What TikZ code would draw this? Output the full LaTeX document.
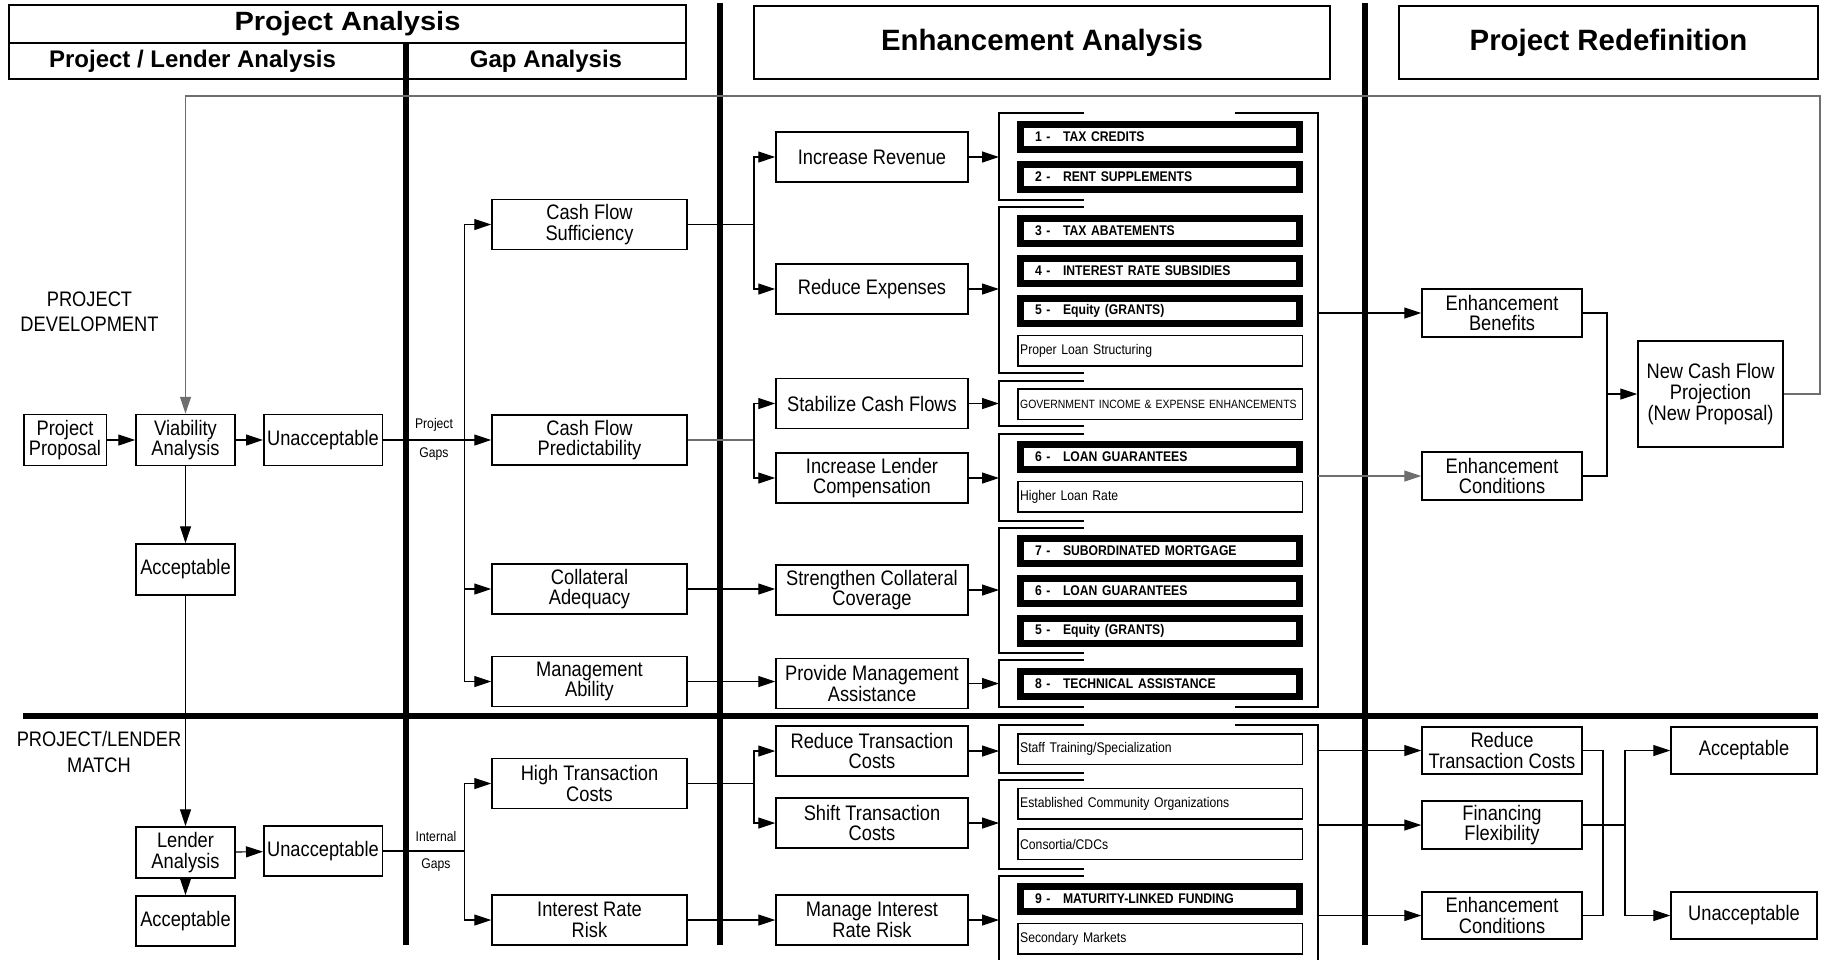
\documentclass[tikz,border=0pt]{standalone}
\usepackage{fontspec}
\setmainfont{Liberation Sans}
\newfontfamily\narrowsf{Liberation Sans}[FakeStretch=0.87]
\newfontfamily\widesf{Liberation Sans}[FakeStretch=1.1]
\usepackage{xcolor}
\definecolor{wireGray}{HTML}{6E6E6E}
\usepackage{tikz}
\usetikzlibrary{arrows.meta, positioning, calc}

\newcommand{\enhno}[2]{\makebox[14pt][l]{#1 -}#2}

\tikzset{
  hdr/.style={draw, line width=0.75pt, fill=white, inner sep=0pt},
  box/.style={draw, line width=0.75pt, fill=white, align=center, inner sep=0pt,
    font=\narrowsf\fontsize{10.5}{10.3}\selectfont},
  lbox/.style={box, minimum width=49.5pt, minimum height=25.5pt},
  gbox/.style={box, minimum width=97.5pt, minimum height=25pt},
  ebox/.style={box, minimum width=96pt, minimum height=25pt},
  rbox/.style={box, minimum width=80pt, minimum height=24pt},
  bitem/.style={draw, line width=3.5pt, fill=white, minimum height=12.5pt, text width=125pt,
    inner xsep=7.25pt, inner ysep=0pt, align=left,
    font=\narrowsf\bfseries\fontsize{7}{8}\selectfont},
  titem/.style={draw, line width=0.75pt, fill=white, minimum height=15.25pt, text width=139.85pt,
    inner xsep=1.2pt, inner ysep=0pt, align=left,
    font=\narrowsf\fontsize{7}{8}\selectfont},
  lbl/.style={align=center, inner sep=0pt, font=\narrowsf\fontsize{10.5}{12.7}\selectfont},
  gaplbl/.style={inner sep=0pt, font=\narrowsf\fontsize{7}{7}\selectfont},
  link/.style={line width=0.6pt},
  arr/.style={link, -{Triangle[length=8.5pt, width=5.5pt]}},
  brk/.style={line width=0.75pt},
  divider/.style={line width=2.8pt}
}

\begin{document}
\begin{tikzpicture}[x=0.5pt, y=-0.5pt]
\useasboundingbox (0,0) rectangle (1824,959);
\fill[white] (0,0) rectangle (1824,959);

\node[hdr, minimum width=338.5pt, minimum height=19pt, font=\widesf\bfseries\fontsize{13.2}{13.2}\selectfont] (paHead) at (347.5,24) {Project Analysis};
\node[hdr, minimum width=198.5pt, minimum height=18pt, font=\bfseries\fontsize{12}{12}\selectfont] (plaHead) at (207.5,61) {Project / Lender Analysis\hspace*{15pt}};
\node[hdr, minimum width=140pt, minimum height=18pt, font=\bfseries\fontsize{12}{12}\selectfont] (gapHead) at (546,61) {Gap Analysis};
\node[hdr, minimum width=288pt, minimum height=36.5pt, font=\bfseries\fontsize{14.7}{14.7}\selectfont] (eaHead) at (1042,42.5) {Enhancement Analysis};
\node[hdr, minimum width=209.5pt, minimum height=36.5pt, font=\bfseries\fontsize{14.7}{14.7}\selectfont] (prHead) at (1608.5,42.5) {Project Redefinition};

\draw[divider] (406,43) -- (406,945);
\draw[divider] (720,3) -- (720,945);
\draw[divider] (1365,3) -- (1365,945);
\draw[divider] (23,716) -- (1818,716);

\node[lbl] (devLbl) at (89.5,312) {PROJECT\\DEVELOPMENT};
\node[lbl] (matchLbl) at (99,752) {PROJECT/LENDER\\MATCH};
\node[gaplbl] (pgLblA) at (434,425) {Project};
\node[gaplbl] (pgLblB) at (434,454) {Gaps};
\node[gaplbl] (igLblA) at (436,836) {Internal};
\node[gaplbl] (igLblB) at (436,865) {Gaps};

\node[lbox, minimum width=41.25pt] (prop) at (65,440) {Project\\Proposal};
\node[lbox] (via) at (185.5,440) {Viability\\Analysis};
\node[lbox, minimum width=59.25pt] (unaccA) at (323,440) {Unacceptable};
\node[lbox] (accA) at (185.5,569.5) {Acceptable};
\node[lbox] (lend) at (185.5,852.5) {Lender\\Analysis};
\node[lbox, minimum width=59.25pt, minimum height=25pt] (unaccB) at (323,851) {Unacceptable};
\node[lbox, minimum height=25pt] (accB) at (185.5,921) {Acceptable};

\node[gbox] (cfs) at (589.5,224.5) {Cash Flow\\Sufficiency};
\node[gbox] (cfp) at (589.5,440) {Cash Flow\\Predictability};
\node[gbox] (coll) at (589.5,589) {Collateral\\Adequacy};
\node[gbox] (mgmt) at (589.5,681.5) {Management\\Ability};
\node[gbox] (htc) at (589.5,783.5) {High Transaction\\Costs};
\node[gbox] (irr) at (589.5,920) {Interest Rate\\Risk};

\node[ebox] (incRev) at (872,157) {Increase Revenue};
\node[ebox] (redExp) at (872,289) {Reduce Expenses};
\node[ebox] (stab) at (872,403.5) {Stabilize Cash Flows};
\node[ebox] (ilc) at (872,478) {Increase Lender\\Compensation};
\node[ebox] (scc) at (872,590) {Strengthen Collateral\\Coverage};
\node[ebox] (pma) at (872,683.5) {Provide Management\\Assistance};
\node[ebox] (rtc) at (872,751) {Reduce Transaction\\Costs};
\node[ebox] (stc) at (872,823) {Shift Transaction\\Costs};
\node[ebox] (mirr) at (872,920) {Manage Interest\\Rate Risk};

\node[bitem] (taxCred) at (1160,137) {\enhno{1}{TAX CREDITS}};
\node[bitem] (rentSup) at (1160,177) {\enhno{2}{RENT SUPPLEMENTS}};
\node[bitem] (taxAbat) at (1160,231) {\enhno{3}{TAX ABATEMENTS}};
\node[bitem] (intSub) at (1160,271) {\enhno{4}{INTEREST RATE SUBSIDIES}};
\node[bitem] (equityA) at (1160,311) {\enhno{5}{Equity (GRANTS)}};
\node[titem] (loanStr) at (1160,350.5) {Proper Loan Structuring};
\node[titem, font=\narrowsf\fontsize{6}{7}\selectfont] (govEnh) at (1160,404) {GOVERNMENT INCOME \& EXPENSE ENHANCEMENTS};
\node[bitem] (loanGuarA) at (1160,457) {\enhno{6}{LOAN GUARANTEES}};
\node[titem] (higherRate) at (1160,496.5) {Higher Loan Rate};
\node[bitem] (subMort) at (1160,551) {\enhno{7}{SUBORDINATED MORTGAGE}};
\node[bitem] (loanGuarB) at (1160,591) {\enhno{6}{LOAN GUARANTEES}};
\node[bitem] (equityB) at (1160,631) {\enhno{5}{Equity (GRANTS)}};
\node[bitem] (techAsst) at (1160,684) {\enhno{8}{TECHNICAL ASSISTANCE}};
\node[titem] (staffTr) at (1160,749) {Staff Training/Specialization};
\node[titem] (commOrg) at (1160,803.5) {Established Community Organizations};
\node[titem] (consort) at (1160,844) {Consortia/CDCs};
\node[bitem] (matFund) at (1160,898.5) {\enhno{9}{MATURITY-LINKED FUNDING}};
\node[titem] (secMkt) at (1160,938.5) {Secondary Markets};

\draw[brk] (1083.5,113) -| (999,200) -- (1083.5,200);
\draw[brk] (1083.5,207) -| (999,373) -- (1083.5,373);
\draw[brk] (1083.5,381) -| (999,426) -- (1083.5,426);
\draw[brk] (1083.5,434) -| (999,521) -- (1083.5,521);
\draw[brk] (1083.5,528) -| (999,653) -- (1083.5,653);
\draw[brk] (1083.5,660) -| (999,707) -- (1083.5,707);
\draw[brk] (1083.5,725) -| (999,773) -- (1083.5,773);
\draw[brk] (1083.5,780) -| (999,869) -- (1083.5,869);
\draw[brk] (1083.5,876) -| (999,962);
\draw[brk] (1235,113) -| (1318,707) -- (1235,707);
\draw[brk] (1235,725) -| (1318,962);

\node[rbox] (benef) at (1502,313) {Enhancement\\Benefits};
\node[rbox] (condA) at (1502,476) {Enhancement\\Conditions};
\node[box, minimum width=72.5pt, minimum height=53pt] (ncfp) at (1710.5,394) {New Cash Flow\\Projection\\(New Proposal)};
\node[rbox, minimum height=23.5pt] (rtcR) at (1502,750.5) {Reduce\\Transaction Costs};
\node[rbox] (flex) at (1502,825) {Financing\\Flexibility};
\node[rbox, minimum height=23.5pt] (condB) at (1502,915.5) {Enhancement\\Conditions};
\node[box, minimum width=73pt, minimum height=23.5pt] (accR) at (1744,750.5) {Acceptable};
\node[box, minimum width=73pt, minimum height=23.5pt] (unaccR) at (1744,915.5) {Unacceptable};

\coordinate (brkL) at (999,0);
\coordinate (brkR) at (1318,0);
\coordinate (gapA) at (464.6,440);
\coordinate (gapB) at (464.6,851);
\coordinate (splA) at (754,224.5);
\coordinate (splB) at (754,440);
\coordinate (splC) at (754,783.5);
\coordinate (joinA) at (1607,394);
\coordinate (joinB) at (1603,825);
\coordinate (fork) at (1625,825);
\coordinate (loopTop) at (1820,96);

\draw[arr] (prop) -- (via);
\draw[arr] (via) -- (unaccA);
\draw[arr] (via) -- (accA);
\draw[arr] (accA) -- (lend);
\draw[arr] (lend) -- (unaccB);
\draw[arr] (lend) -- (accB);

\draw[arr] (unaccA) -- (cfp);
\draw[arr] (gapA) |- (cfs.west);
\draw[arr] (gapA) |- (coll.west);
\draw[arr] (gapA) |- (mgmt.west);
\draw[link] (unaccB) -- (gapB);
\draw[arr] (gapB) |- (htc.west);
\draw[arr] (gapB) |- (irr.west);

\draw[link] (cfs) -- (splA);
\draw[arr] (splA) |- (incRev.west);
\draw[arr] (splA) |- (redExp.west);
\draw[link, wireGray] (cfp) -- (splB);
\draw[arr] (splB) |- (stab.west);
\draw[arr] (splB) |- (ilc.west);
\draw[arr] (coll) -- (coll -| scc.west);
\draw[arr] (mgmt) -- (mgmt -| pma.west);
\draw[link] (htc) -- (splC);
\draw[arr] (splC) |- (rtc.west);
\draw[arr] (splC) |- (stc.west);
\draw[arr] (irr) -- (mirr);

\draw[arr] (incRev.east) -- (incRev.east -| brkL);
\draw[arr] (redExp.east) -- (redExp.east -| brkL);
\draw[arr] (stab.east) -- (stab.east -| brkL);
\draw[arr] (ilc.east) -- (ilc.east -| brkL);
\draw[arr] (scc.east) -- (scc.east -| brkL);
\draw[arr] (pma.east) -- (pma.east -| brkL);
\draw[arr] (rtc.east) -- (rtc.east -| brkL);
\draw[arr] (stc.east) -- (stc.east -| brkL);
\draw[arr] (mirr.east) -- (mirr.east -| brkL);

\draw[arr] (benef.west -| brkR) -- (benef.west);
\draw[arr, wireGray] (condA.west -| brkR) -- (condA.west);
\draw[arr] (rtcR.west -| brkR) -- (rtcR.west);
\draw[arr] (flex.west -| brkR) -- (flex.west);
\draw[arr] (condB.west -| brkR) -- (condB.west);

\draw[link] (benef.east) -| (joinA) |- (condA.east);
\draw[arr] (joinA) -- (ncfp.west);
\draw[arr, wireGray] (ncfp.east) -| (loopTop) -| (via.north);

\draw[link] (rtcR.east) -| (joinB) |- (condB.east);
\draw[link] (flex.east) -- (fork);
\draw[arr] (fork) |- (accR.west);
\draw[arr] (fork) |- (unaccR.west);
\end{tikzpicture}
\end{document}
